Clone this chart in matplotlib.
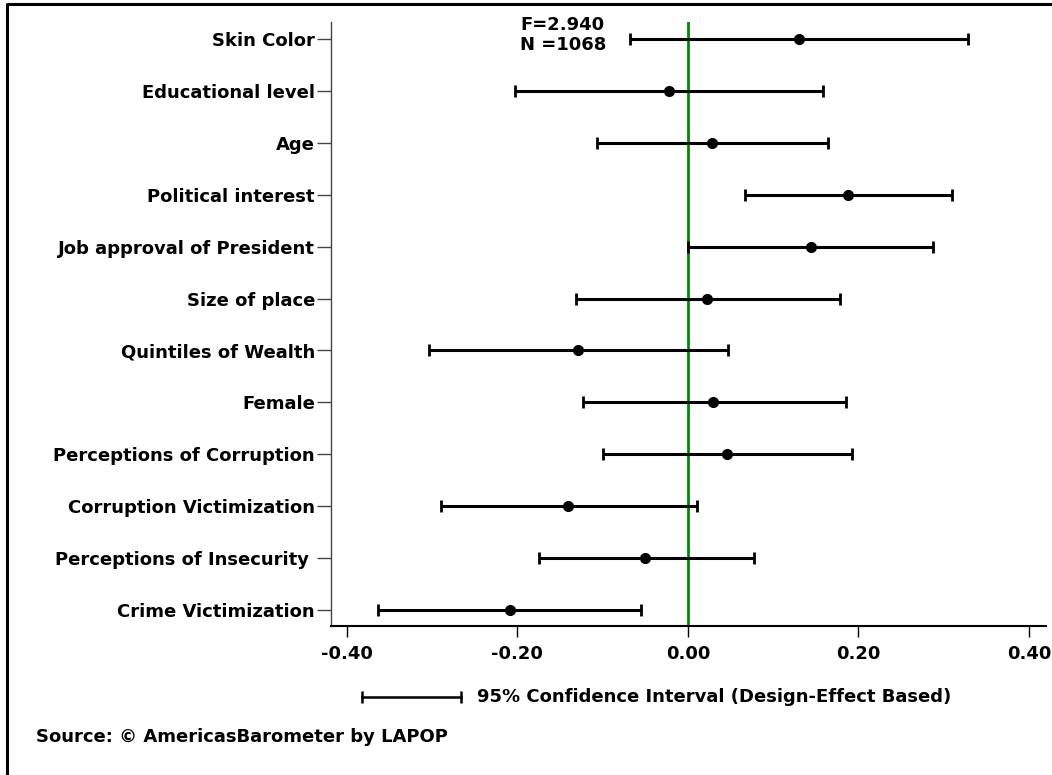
import matplotlib
matplotlib.use('Agg')
import matplotlib.pyplot as plt
from matplotlib.lines import Line2D
import numpy as np

plt.rcParams['font.family'] = ['DejaVu Sans']
plt.rcParams['font.weight'] = 'bold'

# Coeficientes e intervalos de confiança
variaveis = ['Skin Color', 'Educational level', 'Age', 'Political interest',
             'Job approval of President', 'Size of place', 'Quintiles of Wealth',
             'Female', 'Perceptions of Corruption', 'Corruption Victimization',
             'Perceptions of Insecurity ', 'Crime Victimization']
coef = [0.130, -0.022, 0.028, 0.188, 0.144, 0.023, -0.129, 0.030, 0.046, -0.140, -0.050, -0.209]
inferior = [-0.068, -0.203, -0.107, 0.067, 0.000, -0.131, -0.304, -0.123, -0.099, -0.290, -0.175, -0.363]
superior = [0.328, 0.159, 0.164, 0.310, 0.288, 0.178, 0.047, 0.185, 0.193, 0.011, 0.078, -0.055]
ticks_x = [-0.40, -0.20, 0.00, 0.20, 0.40]
estatistica_f = 2.940
n_obs = 1068

fig = plt.figure(figsize=(10.52, 7.75), dpi=100)
ax = fig.add_axes([0.3146, 0.1923, 0.9943 - 0.3146, 0.9716 - 0.1923])

y = np.arange(len(variaveis))
coef = np.array(coef)
erro = [coef - np.array(inferior), np.array(superior) - coef]

ax.axvline(0, color='#008800', lw=2, zorder=1)
ax.errorbar(coef, y, xerr=erro, fmt='o', color='black', ecolor='black',
            elinewidth=2.2, capsize=4.5, capthick=2, markersize=7, zorder=3)

ax.set_xlim(-0.4185, 0.42)
ax.set_ylim(11.31, -0.328)
ax.set_yticks(y)
ax.set_yticklabels(variaveis, fontsize=13, fontweight='bold')
ax.set_xticks(ticks_x)
ax.set_xticklabels(['{:.2f}'.format(t) for t in ticks_x], fontsize=13, fontweight='bold')
ax.tick_params(axis='y', length=10, width=1, pad=1.5, color='#444444')
ax.tick_params(axis='x', length=8, width=1, pad=6)

ax.spines['top'].set_visible(False)
ax.spines['right'].set_visible(False)
ax.spines['left'].set_linewidth(1)
ax.spines['left'].set_color('#444444')
ax.spines['bottom'].set_linewidth(1.5)

# F e N
ax.text(-0.1465, -0.077, 'F={:.3f}\nN ={}'.format(estatistica_f, n_obs), ha='center', va='center',
        fontsize=13, fontweight='bold', linespacing=1.15)

# Legenda do intervalo de confiança
W, H = 1052, 775
ly = 1 - 697 / H
fig.add_artist(Line2D([362 / W, 461 / W], [ly, ly], color='black', lw=1.8))
fig.add_artist(Line2D([362 / W, 461 / W], [ly, ly], color='black', lw=0, marker='|',
                      markersize=9, markeredgewidth=1.8))
fig.text(477 / W, ly, '95% Confidence Interval (Design-Effect Based)', ha='left', va='center',
         fontsize=13, fontweight='bold')
fig.text(36 / W, 1 - 737 / H, 'Source: \u00a9 AmericasBarometer by LAPOP', ha='left', va='center',
         fontsize=13, fontweight='bold')

# Moldura
fig.add_artist(Line2D([7 / W, 7 / W, 1.5], [-0.5, 1 - 4 / H, 1 - 4 / H], color='black', lw=2.2))

plt.savefig('out.png', dpi=100)
